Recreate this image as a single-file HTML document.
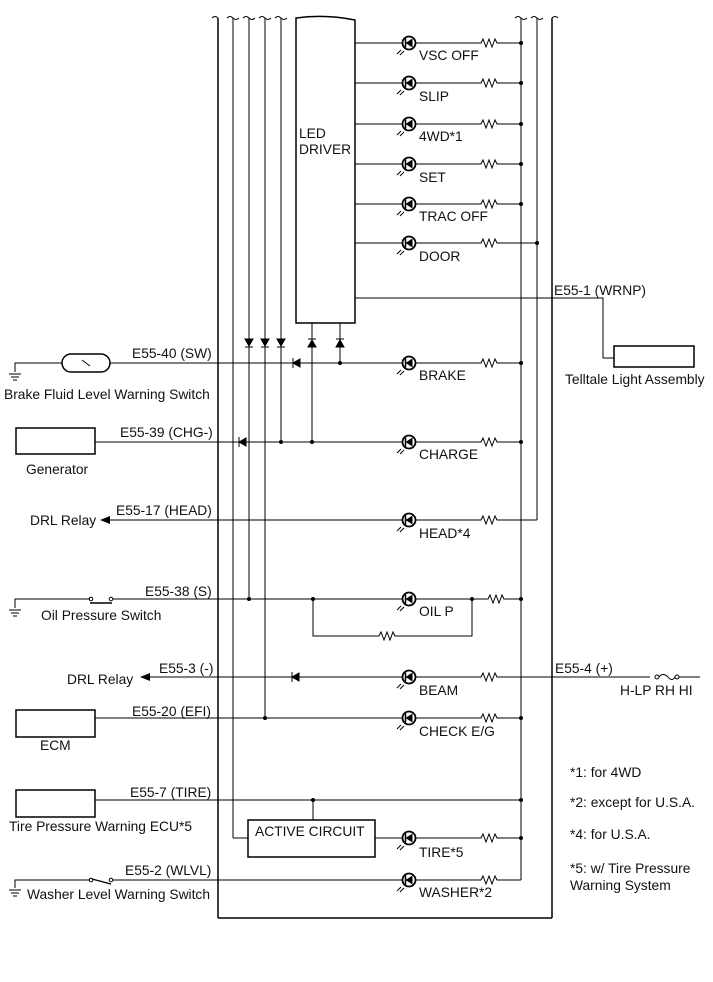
<!DOCTYPE html>
<html><head><meta charset="utf-8"><style>
html,body{margin:0;padding:0;background:#fff}
svg{display:block}
text{font-family:"Liberation Sans",sans-serif;font-size:13.8px;fill:#111}
</style></head><body>
<svg width="713" height="982" viewBox="0 0 713 982" xmlns="http://www.w3.org/2000/svg">
<defs>
<g id="led">
<circle cx="0" cy="0" r="6.5" fill="#fff" stroke="#000" stroke-width="1.8"/>
<polygon points="-3.5,0 3.5,-4.5 3.5,4.5" fill="#000"/>
<line x1="-3.5" y1="-4.5" x2="-3.5" y2="4.5" stroke="#000" stroke-width="1.5"/>
<path d="M-12,11 L-8,7 M-9,12 L-5,8" stroke="#000" stroke-width="1" fill="none"/>
</g>
<g id="res">
<rect x="-9" y="-5" width="18" height="10" fill="#fff"/>
<polyline points="-10,0 -8,0 -6,-4 -3,4 0,-4 3,4 6,-4 8,0 10,0" fill="none" stroke="#000" stroke-width="1"/>
</g>
</defs>
<g stroke="#000" stroke-width="1" fill="none">
<line x1="218" y1="18" x2="218" y2="918" stroke-width="1.5"/>
<line x1="552" y1="18" x2="552" y2="918" stroke-width="1.5"/>
<line x1="218" y1="918" x2="552" y2="918" stroke-width="1.5"/>
<line x1="233" y1="18" x2="233" y2="838"/>
<line x1="249" y1="18" x2="249" y2="599"/>
<line x1="265" y1="18" x2="265" y2="718"/>
<line x1="281" y1="18" x2="281" y2="442"/>
<line x1="521" y1="18" x2="521" y2="880"/>
<line x1="537" y1="18" x2="537" y2="520"/>
<path d="M227,18 q3,-3 6,0 q3,3 6,0 M243,18 q3,-3 6,0 q3,3 6,0 M259,18 q3,-3 6,0 q3,3 6,0 M275,18 q3,-3 6,0 q3,3 6,0 M515,18 q3,-3 6,0 q3,3 6,0 M531,18 q3,-3 6,0 q3,3 6,0 M212,18 q3,-3 6,0 M552,18 q3,-3 6,0"/>
<path d="M296,323 L296,18 Q325,14 355,20 L355,323 Z" stroke-width="1.5"/>
<line x1="355" y1="43" x2="521" y2="43"/>
<line x1="355" y1="83" x2="521" y2="83"/>
<line x1="355" y1="124" x2="521" y2="124"/>
<line x1="355" y1="164" x2="521" y2="164"/>
<line x1="355" y1="204" x2="521" y2="204"/>
<line x1="355" y1="243" x2="537" y2="243"/>
<polyline points="355,298 603,298 603,358 614,358"/>
<rect x="614" y="346" width="80" height="21" stroke-width="1.5"/>
<line x1="312" y1="323" x2="312" y2="442"/>
<line x1="340" y1="323" x2="340" y2="363"/>
<polyline points="15,372 15,363 62,363"/>
<rect x="62" y="354" width="48" height="18" rx="9" stroke-width="1.5"/>
<line x1="82" y1="360" x2="90" y2="366"/>
<line x1="110" y1="363" x2="521" y2="363"/>
<line x1="9" y1="374" x2="21" y2="374"/><line x1="11" y1="377" x2="19" y2="377"/><line x1="13" y1="380" x2="17" y2="380"/>
<rect x="16" y="428" width="79" height="26" stroke-width="1.5"/>
<line x1="95" y1="442" x2="521" y2="442"/>
<line x1="108" y1="520" x2="537" y2="520"/>
<polyline points="15,608 15,599 90,599"/>
<line x1="9" y1="610" x2="21" y2="610"/><line x1="11" y1="613" x2="19" y2="613"/><line x1="13" y1="616" x2="17" y2="616"/>
<circle cx="91" cy="599" r="1.8"/><circle cx="111" cy="599" r="1.8"/>
<line x1="90" y1="603" x2="112" y2="603" stroke-width="1.5"/>
<line x1="113" y1="599" x2="521" y2="599"/>
<polyline points="313,599 313,636 472,636 472,599"/>
<line x1="148" y1="677" x2="650" y2="677"/>
<circle cx="657" cy="677" r="2"/><circle cx="677" cy="677" r="2"/>
<path d="M659,677 q4,-5 9,0 q4,5 7,0"/>
<line x1="679" y1="677" x2="700" y2="677"/>
<rect x="16" y="710" width="79" height="27" stroke-width="1.5"/>
<line x1="95" y1="718" x2="521" y2="718"/>
<rect x="16" y="790" width="79" height="27" stroke-width="1.5"/>
<line x1="95" y1="800" x2="521" y2="800"/>
<line x1="313" y1="800" x2="313" y2="820"/>
<rect x="248" y="820" width="127" height="37" stroke-width="1.5"/>
<line x1="233" y1="838" x2="248" y2="838"/>
<line x1="375" y1="838" x2="521" y2="838"/>
<polyline points="15,888 15,880 90,880"/>
<line x1="9" y1="890" x2="21" y2="890"/><line x1="11" y1="893" x2="19" y2="893"/><line x1="13" y1="896" x2="17" y2="896"/>
<circle cx="91" cy="880" r="1.8"/><circle cx="111" cy="880" r="1.8"/>
<line x1="92" y1="879" x2="111" y2="884" stroke-width="1.3"/>
<line x1="113" y1="880" x2="521" y2="880"/>
</g>
<polygon points="100,520 110,516 110,524" fill="#000"/>
<polygon points="140,677 150,673 150,681" fill="#000"/>
<g fill="#000" stroke="#000" stroke-width="1">
<polygon points="245,339 253,339 249,346"/><line x1="245" y1="347" x2="253" y2="347"/>
<polygon points="261,339 269,339 265,346"/><line x1="261" y1="347" x2="269" y2="347"/>
<polygon points="277,339 285,339 281,346"/><line x1="277" y1="347" x2="285" y2="347"/>
<polygon points="308,347 316,347 312,340"/><line x1="308" y1="339" x2="316" y2="339"/>
<polygon points="336,347 344,347 340,340"/><line x1="336" y1="339" x2="344" y2="339"/>
<polygon points="293,363 300,359 300,367"/><line x1="293" y1="358" x2="293" y2="368"/>
<polygon points="239,442 246,438 246,446"/><line x1="239" y1="437" x2="239" y2="447"/>
<polygon points="292,677 299,673 299,681"/><line x1="292" y1="672" x2="292" y2="682"/>
</g>
<g fill="#000">
<circle cx="521" cy="43" r="2"/><circle cx="521" cy="83" r="2"/><circle cx="521" cy="124" r="2"/><circle cx="521" cy="164" r="2"/><circle cx="521" cy="204" r="2"/><circle cx="537" cy="243" r="2"/>
<circle cx="340" cy="363" r="2"/><circle cx="521" cy="363" r="2"/>
<circle cx="281" cy="442" r="2"/><circle cx="312" cy="442" r="2"/><circle cx="521" cy="442" r="2"/>
<circle cx="249" cy="599" r="2"/><circle cx="313" cy="599" r="2"/><circle cx="472" cy="599" r="2"/><circle cx="521" cy="599" r="2"/>
<circle cx="265" cy="718" r="2"/><circle cx="521" cy="718" r="2"/>
<circle cx="313" cy="800" r="2"/><circle cx="521" cy="800" r="2"/><circle cx="521" cy="838" r="2"/>
</g>
<use href="#led" x="409" y="43"/><use href="#res" x="489" y="43"/>
<use href="#led" x="409" y="83"/><use href="#res" x="489" y="83"/>
<use href="#led" x="409" y="124"/><use href="#res" x="489" y="124"/>
<use href="#led" x="409" y="164"/><use href="#res" x="489" y="164"/>
<use href="#led" x="409" y="204"/><use href="#res" x="489" y="204"/>
<use href="#led" x="409" y="243"/><use href="#res" x="489" y="243"/>
<use href="#led" x="409" y="363"/><use href="#res" x="489" y="363"/>
<use href="#led" x="409" y="442"/><use href="#res" x="489" y="442"/>
<use href="#led" x="409" y="520"/><use href="#res" x="489" y="520"/>
<use href="#led" x="409" y="599"/><use href="#res" x="496" y="599"/><use href="#res" x="387" y="636"/>
<use href="#led" x="409" y="677"/><use href="#res" x="489" y="677"/>
<use href="#led" x="409" y="718"/><use href="#res" x="489" y="718"/>
<use href="#led" x="409" y="838"/><use href="#res" x="489" y="838"/>
<use href="#led" x="409" y="880"/><use href="#res" x="489" y="880"/>
<text x="419" y="60">VSC OFF</text>
<text x="419" y="101">SLIP</text>
<text x="419" y="141">4WD*1</text>
<text x="419" y="182">SET</text>
<text x="419" y="221">TRAC OFF</text>
<text x="419" y="261">DOOR</text>
<text x="299" y="138">LED</text>
<text x="299" y="154">DRIVER</text>
<text x="554" y="295">E55-1 (WRNP)</text>
<text x="565" y="384">Telltale Light Assembly</text>
<text x="132" y="358">E55-40 (SW)</text>
<text x="4" y="399">Brake Fluid Level Warning Switch</text>
<text x="419" y="380">BRAKE</text>
<text x="120" y="437">E55-39 (CHG-)</text>
<text x="26" y="474">Generator</text>
<text x="419" y="459">CHARGE</text>
<text x="116" y="515">E55-17 (HEAD)</text>
<text x="30" y="525">DRL Relay</text>
<text x="419" y="538">HEAD*4</text>
<text x="145" y="596">E55-38 (S)</text>
<text x="41" y="620">Oil Pressure Switch</text>
<text x="419" y="616">OIL P</text>
<text x="159" y="673">E55-3 (-)</text>
<text x="67" y="684">DRL Relay</text>
<text x="419" y="695">BEAM</text>
<text x="555" y="673">E55-4 (+)</text>
<text x="620" y="695">H-LP RH HI</text>
<text x="132" y="716">E55-20 (EFI)</text>
<text x="40" y="750">ECM</text>
<text x="419" y="736">CHECK E/G</text>
<text x="130" y="797">E55-7 (TIRE)</text>
<text x="9" y="831">Tire Pressure Warning ECU*5</text>
<text x="255" y="836">ACTIVE CIRCUIT</text>
<text x="419" y="857">TIRE*5</text>
<text x="125" y="875">E55-2 (WLVL)</text>
<text x="27" y="899">Washer Level Warning Switch</text>
<text x="419" y="897">WASHER*2</text>
<text x="570" y="777">*1: for 4WD</text>
<text x="570" y="807">*2: except for U.S.A.</text>
<text x="570" y="839">*4: for U.S.A.</text>
<text x="570" y="873">*5: w/ Tire Pressure</text>
<text x="570" y="890">Warning System</text>
</svg>
</body></html>
